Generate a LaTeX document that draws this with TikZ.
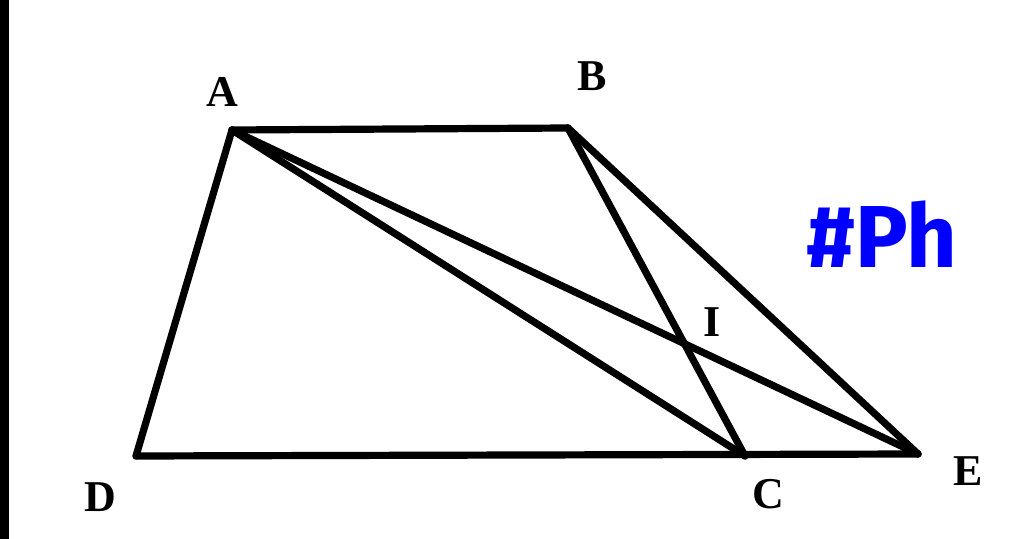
\documentclass[tikz,border=0pt]{standalone}
\usepackage{fontspec}
\setmainfont{Liberation Serif}
\newfontfamily\handfont{Fira Sans}
\usetikzlibrary{positioning}

\begin{document}
\begin{tikzpicture}[x=0.5pt,y=-0.5pt,
    vertex label/.style={font=\bfseries\fontsize{22}{24}\selectfont,inner sep=0pt},
    side/.style={line width=3.6pt,line cap=round,line join=round}]
    \useasboundingbox (0,0) rectangle (1024,539);
    \fill (0,0) rectangle (9,539);

    \coordinate (A) at (232,130);
    \coordinate (B) at (568,128);
    \coordinate (C) at (745,456);
    \coordinate (D) at (136,456);
    \coordinate (E) at (918,454);

    \node[vertex label] (lA) at (222,92) {A};
    \node[vertex label] (lB) at (592,76) {B};
    \node[vertex label] (lC) at (768,494) {C};
    \node[vertex label] (lD) at (100,497) {D};
    \node[vertex label] (lE) at (968,471) {E};
    \node[vertex label] (lI) at (712,322) {I};

    \draw[side] (A) -- (B);
    \draw[side] (A) -- (D);
    \draw[side] (D) -- (E);
    \draw[side] (A) -- (C);
    \draw[side] (A) -- (E);
    \draw[side] (B) -- (C);
    \draw[side] (B) -- (E);

    \node[blue,font=\handfont\bfseries\fontsize{44}{46}\selectfont,inner sep=0pt] (tag) at (882,234) {\#Ph};
\end{tikzpicture}
\end{document}
